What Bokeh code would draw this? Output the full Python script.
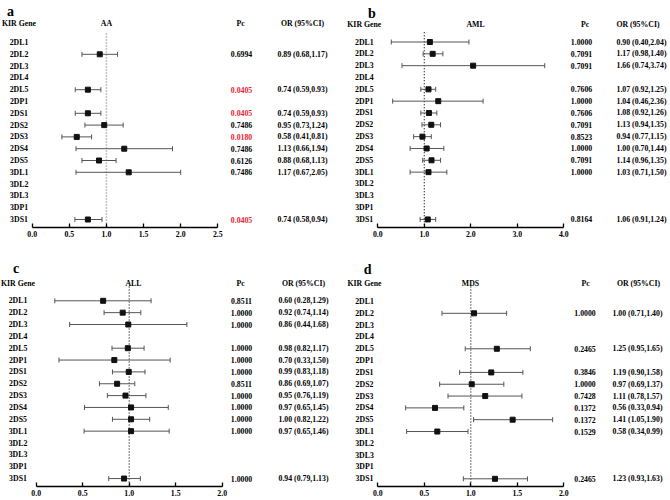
import math
from bokeh.plotting import figure
from bokeh.models import Range1d, LinearAxis, FixedTicker, PrintfTickFormatter, ColumnDataSource
from bokeh.layouts import column, row
from bokeh.core.properties import value
from bokeh.embed import file_html
from bokeh.resources import INLINE

nan = float("nan")

# ---------------- data ----------------
genes = ["2DL1", "2DL2", "2DL3", "2DL4", "2DL5", "2DP1", "2DS1", "2DS2",
         "2DS3", "2DS4", "2DS5", "3DL1", "3DL2", "3DL3", "3DP1", "3DS1"]

# a: AA
aa_est = [nan, 0.91, nan, nan, 0.75, nan, 0.75, 0.97, 0.60, 1.24, 0.90, 1.30, nan, nan, nan, 0.75]
aa_lo = [nan, 0.67, nan, nan, 0.58, nan, 0.58, 0.71, 0.40, 0.59, 0.67, 0.59, nan, nan, nan, 0.575]
aa_hi = [nan, 1.15, nan, nan, 0.925, nan, 0.925, 1.225, 0.80, 1.89, 1.13, 2.00, nan, nan, nan, 0.94]
aa_pc = ["", "0.6994", "", "", "0.0405", "", "0.0405", "0.7486", "0.0180", "0.7486", "0.6126", "0.7486", "", "", "", "0.0405"]
aa_or = ["", "0.89 (0.68,1.17)", "", "", "0.74 (0.59,0.93)", "", "0.74 (0.59,0.93)", "0.95 (0.73,1.24)",
         "0.58 (0.41,0.81)", "1.13 (0.66,1.94)", "0.88 (0.68,1.13)", "1.17 (0.67,2.05)", "", "", "", "0.74 (0.58,0.94)"]

# b: AML
aml_est = [1.12, 1.18, 2.05, nan, 1.09, 1.30, 1.10, 1.15, 0.96, 1.05, 1.155, 1.09, nan, nan, nan, 1.075]
aml_lo = [0.29, 0.975, 0.52, nan, 0.925, 0.32, 0.925, 0.95, 0.77, 0.695, 0.965, 0.695, nan, nan, nan, 0.91]
aml_hi = [1.96, 1.40, 3.59, nan, 1.245, 2.265, 1.27, 1.35, 1.15, 1.42, 1.35, 1.485, nan, nan, nan, 1.245]
aml_pc = ["1.0000", "0.7091", "0.7091", "", "0.7606", "1.0000", "0.7606", "0.7091", "0.8523", "1.0000", "0.7091", "1.0000", "", "", "", "0.8164"]
aml_or = ["0.90 (0.40,2.04)", "1.17 (0.98,1.40)", "1.66 (0.74,3.74)", "", "1.07 (0.92,1.25)", "1.04 (0.46,2.36)",
          "1.08 (0.92,1.26)", "1.13 (0.94,1.35)", "0.94 (0.77,1.15)", "1.00 (0.70,1.44)", "1.14 (0.96,1.35)",
          "1.03 (0.71,1.50)", "", "", "", "1.06 (0.91,1.24)"]

# c: ALL
all_est = [0.72, 0.93, 0.99, nan, 0.985, 0.84, 0.995, 0.87, 0.96, 1.02, 1.02, 1.02, nan, nan, nan, 0.945]
all_lo = [0.20, 0.73, 0.36, nan, 0.815, 0.245, 0.82, 0.68, 0.765, 0.52, 0.82, 0.515, nan, nan, nan, 0.78]
all_hi = [1.235, 1.125, 1.62, nan, 1.16, 1.44, 1.17, 1.06, 1.18, 1.42, 1.22, 1.43, nan, nan, nan, 1.12]
all_pc = ["0.8511", "1.0000", "1.0000", "", "1.0000", "1.0000", "1.0000", "0.8511", "1.0000", "1.0000", "1.0000", "1.0000", "", "", "", "1.0000"]
all_or = ["0.60 (0.28,1.29)", "0.92 (0.74,1.14)", "0.86 (0.44,1.68)", "", "0.98 (0.82,1.17)", "0.70 (0.33,1.50)",
          "0.99 (0.83,1.18)", "0.86 (0.69,1.07)", "0.95 (0.76,1.19)", "0.97 (0.65,1.45)", "1.00 (0.82,1.22)",
          "0.97 (0.65,1.46)", "", "", "", "0.94 (0.79,1.13)"]

# d: MDS
mds_est = [nan, 1.035, nan, nan, 1.28, nan, 1.22, 1.01, 1.155, 0.615, 1.45, 0.64, nan, nan, nan, 1.26]
mds_lo = [nan, 0.69, nan, nan, 0.94, nan, 0.88, 0.665, 0.755, 0.30, 1.03, 0.31, nan, nan, nan, 0.92]
mds_hi = [nan, 1.385, nan, nan, 1.64, nan, 1.56, 1.355, 1.55, 0.925, 1.88, 0.97, nan, nan, nan, 1.61]
mds_pc = ["", "1.0000", "", "", "0.2465", "", "0.3846", "1.0000", "0.7428", "0.1372", "0.1372", "0.1529", "", "", "", "0.2465"]
mds_or = ["", "1.00 (0.71,1.40)", "", "", "1.25 (0.95,1.65)", "", "1.19 (0.90,1.58)", "0.97 (0.69,1.37)",
          "1.11 (0.78,1.57)", "0.56 (0.33,0.94)", "1.41 (1.05,1.90)", "0.58 (0.34,0.99)", "", "", "", "1.23 (0.93,1.63)"]

ticks_a = [0.0, 0.5, 1.0, 1.5, 2.0, 2.5]
ticks_b = [0.0, 1.0, 2.0, 3.0, 4.0]
ticks_c = [0.0, 0.5, 1.0, 1.5, 2.0]
ticks_d = [0.0, 0.5, 1.0, 1.5, 2.0]

REF_OR = 1.0
SIG = 0.05

# ---------------- layout / style ----------------
PW, PH = 335, 250
REF_W, REF_H = 335.0, 250.0
FONT = "Liberation Serif"
TXT = "#000000"
RED = "#e8232f"
FS = "7.8px"


def make_panel(letter, title, est, lo, hi, pc, orci, ticks, lay):
    x0, ppu = lay["x0"], lay["ppu"]
    y0, dy, axis_y = lay["y0"], lay["dy"], lay["axis_y"]
    sy = PH / REF_H
    border_b = int(round(PH - sy * axis_y))
    frame_h = PH - border_b
    xs = -x0 / ppu
    xe = xs + REF_W / ppu
    ytop = -y0 / dy
    ybot = ytop + frame_h / (dy * sy)

    p = figure(width=PW, height=PH, output_backend="svg", toolbar_location=None,
               x_axis_type=None, y_axis_type=None,
               x_range=Range1d(xs, xe), y_range=Range1d(ybot, ytop),
               min_border_left=0, min_border_right=0, min_border_top=0,
               min_border_bottom=border_b, outline_line_color=None)
    p.xgrid.visible = False
    p.ygrid.visible = False

    def X(px):
        return (px - x0) / ppu

    def Y(py):
        return (py - y0) / dy

    ax = LinearAxis(bounds=(ticks[0], ticks[-1]), ticker=FixedTicker(ticks=ticks),
                    formatter=PrintfTickFormatter(format="%.1f"))
    ax.axis_line_width = 1.6
    ax.axis_line_color = "#000000"
    ax.major_tick_line_width = 1.3
    ax.major_tick_line_color = "#000000"
    ax.major_tick_in = 4
    ax.major_tick_out = 0
    ax.minor_tick_line_color = None
    ax.major_label_text_font = FONT
    ax.major_label_text_font_style = "bold"
    ax.major_label_text_font_size = FS
    ax.major_label_text_color = TXT
    ax.major_label_standoff = 3
    p.add_layout(ax, "below")

    # reference line at OR = 1
    p.segment(x0=[REF_OR], x1=[REF_OR], y0=[Y(lay["dot_top"])], y1=[ybot],
              line_color=lay["dot_color"], line_width=lay["dot_w"], line_dash="1 2")

    rows = list(range(len(genes)))
    keep = [i for i in rows if not math.isnan(est[i])]
    src = ColumnDataSource(dict(
        y=[rows[i] for i in keep],
        est=[est[i] for i in keep],
        lo=[lo[i] for i in keep],
        hi=[hi[i] for i in keep],
    ))
    p.segment(x0="lo", x1="hi", y0="y", y1="y", source=src, line_color="#555555", line_width=1)
    p.scatter(x="lo", y="y", source=src, marker="dash", angle=math.pi / 2, size=5,
              line_color="#555555", line_width=1)
    p.scatter(x="hi", y="y", source=src, marker="dash", angle=math.pi / 2, size=5,
              line_color="#555555", line_width=1)
    p.scatter(x="est", y="y", source=src, marker="square", size=5,
              fill_color="#111111", line_color="#111111")

    common = dict(text_font=value(FONT), text_font_style="bold", text_font_size=FS,
                  text_baseline="middle")

    # gene column
    p.text(x=[X(lay["gene_x"])] * len(genes), y=rows, text=genes, text_align="center",
           text_color=TXT, **common)
    # headers
    hy = Y(lay["header_y"])
    p.text(x=[X(lay["gene_x"]), X(lay["title_x"]), X(lay["pc_hdr"]), X(lay["or_hdr"])],
           y=[hy] * 4, text=["KIR Gene", title, "Pc", "OR (95%CI)"], text_align="center",
           text_color=TXT, **common)
    # Pc column
    pc_rows = [i for i in rows if pc[i]]
    pc_cols = [RED if float(pc[i]) < SIG else TXT for i in pc_rows]
    p.text(x=[X(lay["pc_x"])] * len(pc_rows), y=pc_rows, text=[pc[i] for i in pc_rows],
           text_color=pc_cols, text_align="center", **common)
    # OR column
    or_rows = [i for i in rows if orci[i]]
    p.text(x=[X(lay["or_x"])] * len(or_rows), y=or_rows, text=[orci[i] for i in or_rows],
           text_color=TXT, text_align="center", **common)
    # panel letter
    lx, ly = lay["label"]
    p.text(x=[X(lx)], y=[Y(ly)], text=[letter], text_font=value(FONT), text_font_style="bold",
           text_font_size="14px", text_baseline="alphabetic", text_align="left", text_color="#000000")
    return p


lay_a = dict(x0=31.7, ppu=74.24, y0=42.0, dy=11.8, axis_y=227.3, label=(6.5, 10.5), header_y=23.3,
             gene_x=18.5, title_x=106, pc_x=241, pc_hdr=240, or_x=302, or_hdr=302,
             dot_top=33, dot_color="#8a8a8a", dot_w=1.5)
lay_b = dict(x0=42.3, ppu=46.5, y0=41.5, dy=11.83, axis_y=226.7, label=(32.5, 12.7), header_y=24,
             gene_x=28.8, title_x=140, pc_x=246, pc_hdr=249.5, or_x=306, or_hdr=302.5,
             dot_top=31.7, dot_color="#111111", dot_w=1.2)
lay_c = dict(x0=35.7, ppu=93.0, y0=50.3, dy=11.85, axis_y=236, label=(12.5, 18.3), header_y=32.7,
             gene_x=17.5, title_x=133, pc_x=241, pc_hdr=240, or_x=303, or_hdr=303,
             dot_top=36, dot_color="#111111", dot_w=1.2)
lay_d = dict(x0=42.3, ppu=93.0, y0=51.0, dy=11.82, axis_y=236, label=(28.3, 19.3), header_y=32.7,
             gene_x=29, title_x=135, pc_x=249.5, pc_hdr=250, or_x=302, or_hdr=303,
             dot_top=36, dot_color="#111111", dot_w=1.2)

pa = make_panel("a", "AA", aa_est, aa_lo, aa_hi, aa_pc, aa_or, ticks_a, lay_a)
pb = make_panel("b", "AML", aml_est, aml_lo, aml_hi, aml_pc, aml_or, ticks_b, lay_b)
pc_ = make_panel("c", "ALL", all_est, all_lo, all_hi, all_pc, all_or, ticks_c, lay_c)
pd_ = make_panel("d", "MDS", mds_est, mds_lo, mds_hi, mds_pc, mds_or, ticks_d, lay_d)

layout = column(row(pa, pb), row(pc_, pd_))

with open("out.html", "w") as f:
    f.write(file_html(layout, INLINE))
